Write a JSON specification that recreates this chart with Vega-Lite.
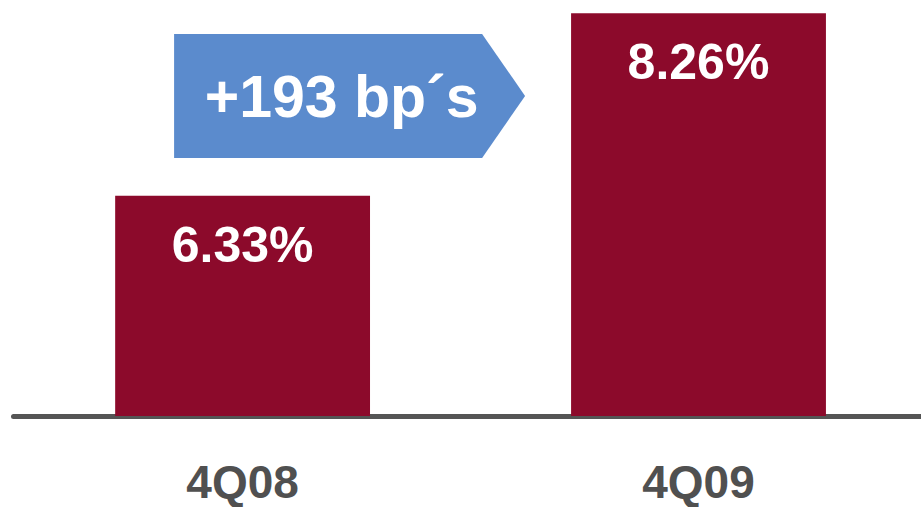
{
  "$schema": "https://vega.github.io/schema/vega-lite/v6.json",
  "width": 908,
  "height": 416,
  "autosize": {"type": "none"},
  "padding": {"left": 13, "top": 0, "right": 0, "bottom": 91},
  "background": "white",
  "config": {
    "view": {"stroke": null},
    "font": "Liberation Sans"
  },
  "datasets": {
    "bars": [
      {"period": "4Q08", "rate": 6.33},
      {"period": "4Q09", "rate": 8.26}
    ],
    "note": [
      {"period": "4Q08", "pos": 7.385, "text": "+193 bp´s"}
    ]
  },
  "encoding": {
    "x": {
      "field": "period",
      "type": "nominal",
      "sort": ["4Q08", "4Q09"],
      "scale": {"paddingInner": 0.441, "paddingOuter": 0.2163, "align": 0.518},
      "axis": {
        "title": null,
        "ticks": false,
        "tickSize": 0,
        "grid": false,
        "labelAngle": 0,
        "labelFont": "Liberation Sans",
        "labelFontWeight": "bold",
        "labelFontSize": 46,
        "labelColor": "#505050",
        "labelBaseline": "alphabetic",
        "labelPadding": 81,
        "domainColor": "#555555",
        "domainWidth": 5,
        "domainCap": "round"
      }
    }
  },
  "layer": [
    {
      "data": {"name": "bars"},
      "mark": {"type": "bar", "color": "#8C0A2B", "clip": true},
      "encoding": {
        "y": {
          "field": "rate",
          "type": "quantitative",
          "scale": {"domain": [4, 8.4], "zero": false, "nice": false},
          "axis": null
        }
      }
    },
    {
      "data": {"name": "bars"},
      "transform": [{"calculate": "format(datum.rate, '.2f') + '%'", "as": "label"}],
      "mark": {
        "type": "text",
        "color": "white",
        "font": "Liberation Sans",
        "fontWeight": "bold",
        "fontSize": 50,
        "baseline": "alphabetic",
        "align": "center",
        "dy": 66
      },
      "encoding": {
        "y": {"field": "rate", "type": "quantitative", "scale": {"domain": [4, 8.4], "zero": false, "nice": false}, "axis": null},
        "text": {"field": "label"}
      }
    },
    {
      "data": {"name": "note"},
      "mark": {
        "type": "point",
        "filled": true,
        "opacity": 1,
        "color": "#5B8BCD",
        "strokeWidth": 0,
        "size": 123201,
        "shape": "M-1,-0.353L0.755,-0.353L1,0L0.755,0.353L-1,0.353Z",
        "xOffset": 107
      },
      "encoding": {
        "y": {"field": "pos", "type": "quantitative", "scale": {"domain": [4, 8.4], "zero": false, "nice": false}, "axis": null}
      }
    },
    {
      "data": {"name": "note"},
      "mark": {
        "type": "text",
        "color": "white",
        "font": "Liberation Sans",
        "fontWeight": "bold",
        "fontSize": 59,
        "baseline": "alphabetic",
        "align": "center",
        "xOffset": 99,
        "dy": 21
      },
      "encoding": {
        "y": {"field": "pos", "type": "quantitative", "scale": {"domain": [4, 8.4], "zero": false, "nice": false}, "axis": null},
        "text": {"field": "text"}
      }
    }
  ]
}
